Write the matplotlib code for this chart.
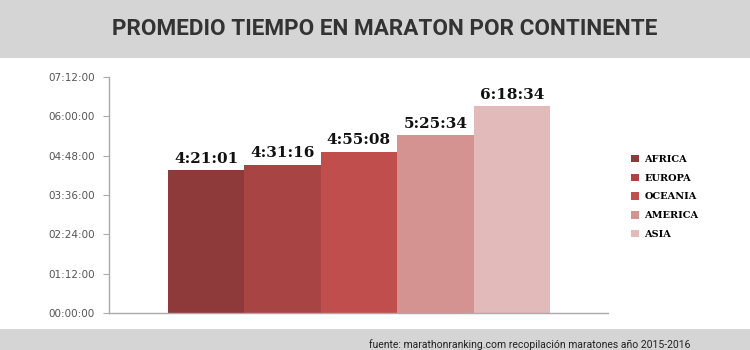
import matplotlib
matplotlib.use('Agg')
import matplotlib.pyplot as plt
from matplotlib.patches import Rectangle

continentes = ["AFRICA", "EUROPA", "OCEANIA", "AMERICA", "ASIA"]
tiempos = ["4:21:01", "4:31:16", "4:55:08", "5:25:34", "6:18:34"]
colores = ["#8e3a3a", "#a94444", "#bf4e4c", "#d49291", "#e3baba"]
ticks_h = [0, 1.2, 2.4, 3.6, 4.8, 6.0, 7.2]
tick_labels = ["00:00:00", "01:12:00", "02:24:00", "03:36:00", "04:48:00", "06:00:00", "07:12:00"]


def to_hours(t):
    h, m, s = [int(v) for v in t.split(":")]
    return h + m / 60 + s / 3600


horas = [to_hours(t) for t in tiempos]

W, H = 750, 350
fig = plt.figure(figsize=(7.5, 3.5), dpi=100)
fig.patch.set_facecolor("white")

# bandas grises arriba y abajo
fig.add_artist(Rectangle((0, 1 - 58 / H), 1, 58 / H, transform=fig.transFigure,
                         facecolor="#d5d5d5", edgecolor="none", zorder=0))
fig.add_artist(Rectangle((0, 0), 1, 21 / H, transform=fig.transFigure,
                         facecolor="#d5d5d5", edgecolor="none", zorder=0))

fig.text(385 / W, 1 - 29 / H, "PROMEDIO TIEMPO EN MARATON POR CONTINENTE",
         ha="center", va="center", fontsize=16.2, fontweight="bold",
         family="Roboto", fontstretch="condensed", color="#333333")

fig.text(530 / W, 1 - 339 / H,
         "fuente: marathonranking.com recopilación maratones año 2015-2016",
         ha="center", va="top", fontsize=7.5, family="Roboto",
         fontstretch="condensed", color="#222222")

ax = fig.add_axes([109 / W, 1 - 313 / H, (608 - 109) / W, (313 - 77) / H])
ax.set_facecolor("none")

x = range(len(continentes))
bars = ax.bar(x, horas, width=1.0, color=colores, label=continentes)
for xi, h, t in zip(x, horas, tiempos):
    ax.text(xi, h + 0.14, t, ha="center", va="bottom", fontsize=11,
            fontweight="bold", family="DejaVu Serif", color="#111111")

ax.set_xlim(-1.27, 5.26)
ax.set_ylim(0, 7.2)
ax.set_yticks(ticks_h)
ax.set_yticklabels(tick_labels, fontsize=7.5, color="#555555")
ax.set_xticks([])
for side in ["top", "right"]:
    ax.spines[side].set_visible(False)
for side in ["left", "bottom"]:
    ax.spines[side].set_color("#aaaaaa")
    ax.spines[side].set_linewidth(1)
ax.tick_params(axis="y", length=4, color="#aaaaaa", pad=6)

handles = [Rectangle((0, 0), 1, 1, facecolor=c) for c in colores]
leg = fig.legend(handles, continentes, loc="upper left",
                 bbox_to_anchor=(622 / W, 1 - 146 / H), frameon=False,
                 handlelength=0.8, handleheight=0.8, handletextpad=0.6,
                 labelspacing=1.0, prop={"family": "DejaVu Serif",
                                         "weight": "bold", "size": 7})

fig.savefig("out.png", dpi=100)
